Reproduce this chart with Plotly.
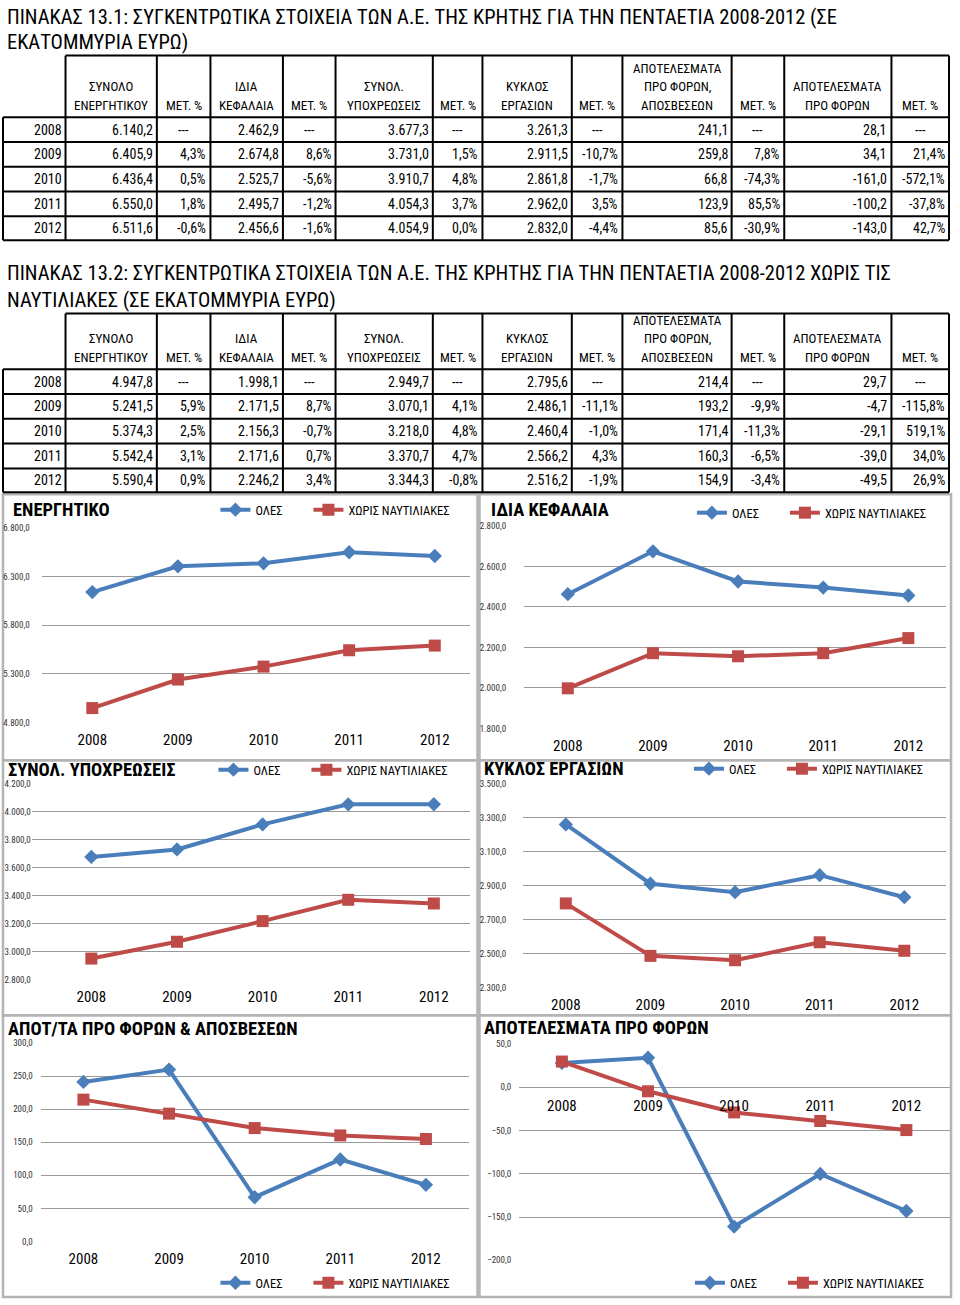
import plotly.graph_objects as go

W, H = 960, 1305


def px(x):
    return x / W


def py(y):
    return 1 - y / H


years = ["2008", "2009", "2010", "2011", "2012"]

# ---- ΠΙΝΑΚΑΣ 13.1 : όλες οι Α.Ε.
assets_all = [6140.2, 6405.9, 6436.4, 6550.0, 6511.6]
assets_all_pct = [None, 4.3, 0.5, 1.8, -0.6]
equity_all = [2462.9, 2674.8, 2525.7, 2495.7, 2456.6]
equity_all_pct = [None, 8.6, -5.6, -1.2, -1.6]
liab_all = [3677.3, 3731.0, 3910.7, 4054.3, 4054.9]
liab_all_pct = [None, 1.5, 4.8, 3.7, 0.0]
turn_all = [3261.3, 2911.5, 2861.8, 2962.0, 2832.0]
turn_all_pct = [None, -10.7, -1.7, 3.5, -4.4]
ebitda_all = [241.1, 259.8, 66.8, 123.9, 85.6]
ebitda_all_pct = [None, 7.8, -74.3, 85.5, -30.9]
ebt_all = [28.1, 34.1, -161.0, -100.2, -143.0]
ebt_all_pct = [None, 21.4, -572.1, -37.8, 42.7]

# ---- ΠΙΝΑΚΑΣ 13.2 : χωρίς ναυτιλιακές
assets_x = [4947.8, 5241.5, 5374.3, 5542.4, 5590.4]
assets_x_pct = [None, 5.9, 2.5, 3.1, 0.9]
equity_x = [1998.1, 2171.5, 2156.3, 2171.6, 2246.2]
equity_x_pct = [None, 8.7, -0.7, 0.7, 3.4]
liab_x = [2949.7, 3070.1, 3218.0, 3370.7, 3344.3]
liab_x_pct = [None, 4.1, 4.8, 4.7, -0.8]
turn_x = [2795.6, 2486.1, 2460.4, 2566.2, 2516.2]
turn_x_pct = [None, -11.1, -1.0, 4.3, -1.9]
ebitda_x = [214.4, 193.2, 171.4, 160.3, 154.9]
ebitda_x_pct = [None, -9.9, -11.3, -6.5, -3.4]
ebt_x = [29.7, -4.7, -29.1, -39.0, -49.5]
ebt_x_pct = [None, -115.8, 519.1, 34.0, 26.9]

headers = [
    ["ΣΥΝΟΛΟ", "ΕΝΕΡΓΗΤΙΚΟΥ"], ["ΜΕΤ. %"],
    ["ΙΔΙΑ", "ΚΕΦΑΛΑΙΑ"], ["ΜΕΤ. %"],
    ["ΣΥΝΟΛ.", "ΥΠΟΧΡΕΩΣΕΙΣ"], ["ΜΕΤ. %"],
    ["ΚΥΚΛΟΣ", "ΕΡΓΑΣΙΩΝ"], ["ΜΕΤ. %"],
    ["ΑΠΟΤΕΛΕΣΜΑΤΑ", "ΠΡΟ ΦΟΡΩΝ,", "ΑΠΟΣΒΕΣΕΩΝ"], ["ΜΕΤ. %"],
    ["ΑΠΟΤΕΛΕΣΜΑΤΑ", "ΠΡΟ ΦΟΡΩΝ"], ["ΜΕΤ. %"],
]

title1 = ["ΠΙΝΑΚΑΣ 13.1: ΣΥΓΚΕΝΤΡΩΤΙΚΑ ΣΤΟΙΧΕΙΑ ΤΩΝ Α.Ε. ΤΗΣ ΚΡΗΤΗΣ ΓΙΑ ΤΗΝ ΠΕΝΤΑΕΤΙΑ 2008-2012 (ΣΕ",
          "ΕΚΑΤΟΜΜΥΡΙΑ ΕΥΡΩ)"]
title2 = ["ΠΙΝΑΚΑΣ 13.2: ΣΥΓΚΕΝΤΡΩΤΙΚΑ ΣΤΟΙΧΕΙΑ ΤΩΝ Α.Ε. ΤΗΣ ΚΡΗΤΗΣ ΓΙΑ ΤΗΝ ΠΕΝΤΑΕΤΙΑ 2008-2012 ΧΩΡΙΣ ΤΙΣ",
          "ΝΑΥΤΙΛΙΑΚΕΣ (ΣΕ ΕΚΑΤΟΜΜΥΡΙΑ ΕΥΡΩ)"]

chart_titles = ["ΕΝΕΡΓΗΤΙΚΟ", "ΙΔΙΑ ΚΕΦΑΛΑΙΑ", "ΣΥΝΟΛ. ΥΠΟΧΡΕΩΣΕΙΣ",
                "ΚΥΚΛΟΣ ΕΡΓΑΣΙΩΝ", "ΑΠΟΤ/ΤΑ ΠΡΟ ΦΟΡΩΝ & ΑΠΟΣΒΕΣΕΩΝ", "ΑΠΟΤΕΛΕΣΜΑΤΑ ΠΡΟ ΦΟΡΩΝ"]
series_names = ["ΟΛΕΣ", "ΧΩΡΙΣ ΝΑΥΤΙΛΙΑΚΕΣ"]

FONT = "Liberation Sans Narrow, Arial Narrow, Roboto Condensed, sans-serif"
BLUE = "#4A7EBB"
RED = "#BE4B48"
GRID = "#9A9A9A"
BOX = "#B4B4B4"

shapes = []
annotations = []


def line(x0, y0, x1, y1, color="black", width=2):
    shapes.append(dict(type="line", xref="paper", yref="paper", x0=px(x0), y0=py(y0),
                       x1=px(x1), y1=py(y1), line=dict(color=color, width=width)))


def text(t, x, y, xa="left", size=14, bold=False, color="black"):
    annotations.append(dict(text=("<b>%s</b>" % t) if bold else t, x=px(x), y=py(y),
                            xref="paper", yref="paper", xanchor=xa, yanchor="middle",
                            showarrow=False, borderpad=0,
                            font=dict(family=FONT, size=size, color=color)))


def fmt_num(v):
    s = f"{v:,.1f}"
    return s.replace(",", "X").replace(".", ",").replace("X", ".")


def fmt_pct(v):
    return f"{v:.1f}%".replace(".", ",")


col_edges = [3, 66, 158, 212, 285, 338, 436, 486, 576, 627, 737, 790, 898, 956]


def draw_table(title_lines, title_ys, head_top, row_lines, series):
    head_bot = row_lines[0]
    for t, y in zip(title_lines, title_ys):
        text(t, 6, y, size=20.5)
    line(col_edges[1], head_top, col_edges[-1], head_top)
    for y in row_lines:
        line(col_edges[0], y, col_edges[-1], y)
    line(col_edges[0], head_bot, col_edges[0], row_lines[-1])
    for x in col_edges[1:]:
        line(x, head_top, x, row_lines[-1])
    for i, hdr in enumerate(headers):
        cx = (col_edges[i + 1] + col_edges[i + 2]) / 2
        n = len(hdr)
        for j, t in enumerate(hdr):
            yy = head_bot - 12 - (n - 1 - j) * 18.5
            text(t, cx, yy, xa="center", size=13)
    for r, yr in enumerate(years):
        cy = (row_lines[r] + row_lines[r + 1]) / 2
        text(yr, col_edges[1] - 3, cy, xa="right", size=14)
        for k, (vals, pcts) in enumerate(series):
            text(fmt_num(vals[r]), col_edges[2 + 2 * k] - 3, cy, xa="right", size=14)
            p = pcts[r]
            if p is None:
                text("---", (col_edges[2 + 2 * k] + col_edges[3 + 2 * k]) / 2, cy, xa="center", size=14)
            else:
                text(fmt_pct(p), col_edges[3 + 2 * k] - 3, cy, xa="right", size=14)


draw_table(title1, [12, 37], 51, [113, 138, 163, 188, 213, 237],
           [(assets_all, assets_all_pct), (equity_all, equity_all_pct), (liab_all, liab_all_pct),
            (turn_all, turn_all_pct), (ebitda_all, ebitda_all_pct), (ebt_all, ebt_all_pct)])
draw_table(title2, [270, 297], 311, [367, 392, 417, 442, 467, 491],
           [(assets_x, assets_x_pct), (equity_x, equity_x_pct), (liab_x, liab_x_pct),
            (turn_x, turn_x_pct), (ebitda_x, ebitda_x_pct), (ebt_x, ebt_x_pct)])

charts = [
    dict(all=assets_all, ex=assets_x, box=(3, 493, 481, 761), plot=(42, 527, 473, 723),
         yr=(4800, 6800), dtick=500, xr=(-0.591, 4.406), ygap=14, tpos=(12, 509), lpos=(217, 509)),
    dict(all=equity_all, ex=equity_x, box=(483, 493, 958, 761), plot=(528, 525, 953, 729),
         yr=(1800, 2800), dtick=200, xr=(-0.513, 4.443), ygap=20, tpos=(494, 509), lpos=(697, 512)),
    dict(all=liab_all, ex=liab_x, box=(3, 761, 481, 1018), plot=(32, 785, 473, 982),
         yr=(2800, 4200), dtick=200, xr=(-0.696, 4.417), ygap=3, tpos=(7, 771), lpos=(215, 771)),
    dict(all=turn_all, ex=turn_x, box=(483, 761, 958, 1018), plot=(527, 785, 953, 990),
         yr=(2300, 3500), dtick=200, xr=(-0.504, 4.493), ygap=19, tpos=(487, 770), lpos=(694, 770)),
    dict(all=ebitda_all, ex=ebitda_x, box=(3, 1018, 481, 1302), plot=(41, 1046, 472, 1246),
         yr=(0, 300), dtick=50, xr=(-0.499, 4.498), ygap=10, tpos=(7, 1032), lpos=(217, 1288)),
    dict(all=ebt_all, ex=ebt_x, box=(483, 1018, 958, 1302), plot=(523, 1047, 957, 1265),
         yr=(-200, 50), dtick=50, xr=(-0.496, 4.507), ygap=10, tpos=(487, 1031), lpos=(695, 1288)),
]

fig = go.Figure()
layout = {}
for i, c in enumerate(charts):
    n = i + 1
    sfx = "" if n == 1 else str(n)
    xa, ya, lg = "x" + sfx, "y" + sfx, "legend" + sfx
    bx0, by0, bx1, by1 = c["box"]
    shapes.append(dict(type="rect", xref="paper", yref="paper", x0=px(bx0), y0=py(by0),
                       x1=px(bx1), y1=py(by1), line=dict(color=BOX, width=2.5), layer="below"))
    text(chart_titles[i], c["tpos"][0], c["tpos"][1], size=18.5, bold=True)
    fig.add_trace(go.Scatter(x=years, y=c["all"], name=series_names[0], mode="lines+markers",
                             line=dict(color=BLUE, width=4),
                             marker=dict(symbol="diamond", size=11, color=BLUE),
                             xaxis=xa, yaxis=ya, legend=lg, legendwidth=48, cliponaxis=False))
    fig.add_trace(go.Scatter(x=years, y=c["ex"], name=series_names[1], mode="lines+markers",
                             line=dict(color=RED, width=4),
                             marker=dict(symbol="square", size=12, color=RED),
                             xaxis=xa, yaxis=ya, legend=lg, legendwidth=130, cliponaxis=False))
    x0, yt, x1, yb = c["plot"]
    lo, hi = c["yr"]
    xaxis = dict(domain=[px(x0), px(x1)], anchor=ya, type="category", categoryorder="array",
                 categoryarray=years, range=list(c["xr"]), showgrid=False, zeroline=False,
                 showline=False, ticks="", ticklabelstandoff=7,
                 tickfont=dict(family=FONT, size=15, color="black"), fixedrange=True)
    if lo < 0 < hi:
        zero_px = yt + (hi - 0) / (hi - lo) * (yb - yt)
        xaxis.update(anchor="free", position=py(zero_px), ticklabelstandoff=8)
    layout["xaxis" + sfx] = xaxis
    layout["yaxis" + sfx] = dict(domain=[py(yb), py(yt)], anchor=xa, range=[lo, hi], tick0=lo,
                                 dtick=c["dtick"], tickformat=",.1f", showgrid=True,
                                 gridcolor=GRID, gridwidth=1.3, zeroline=False, showline=False,
                                 ticks="", ticklabelstandoff=max(c["ygap"] - 3, 0),
                                 tickfont=dict(family=FONT, size=9, color="#333333"),
                                 fixedrange=True)
    layout[lg] = dict(orientation="h", x=px(c["lpos"][0]), y=py(c["lpos"][1]), xanchor="left",
                      yanchor="middle", font=dict(family=FONT, size=12.5, color="black"),
                      bgcolor="rgba(0,0,0,0)", traceorder="normal", borderwidth=0)

fig.update_layout(width=W, height=H, margin=dict(l=0, r=0, t=0, b=0),
                  paper_bgcolor="white", plot_bgcolor="white", separators=",.",
                  shapes=shapes, annotations=annotations, showlegend=True, **layout)
# The page body's default 8px margin is removed so the 960x1305 figure fills the window.
fig.write_html("out.html", config={"displayModeBar": False},
               post_script="document.body.style.margin='0';")
